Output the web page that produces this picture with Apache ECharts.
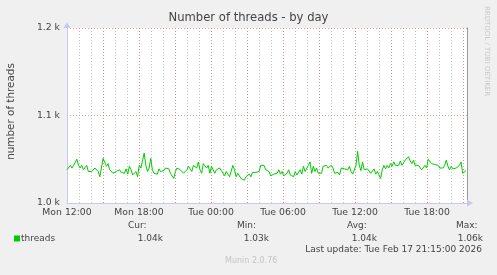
<!DOCTYPE html>
<html><head><meta charset="utf-8">
<script src="https://cdn.jsdelivr.net/npm/echarts@6/dist/echarts.min.js"></script>
<style>html,body{margin:0;padding:0;background:#f0f0f0;}#c{width:497px;height:275px;}</style>
</head><body><div id="c"></div>
<script>
// ---- data ----
const threads = [
 1038,1040,1043,1040,1043,1045,1050,1043,1040,1043,
 1038,1039,1043,1036,1034,1036,1037,1040,1038,1036,
 1030,1029,1051,1050,1042,1045,1038,1039,1034,1036,
 1036,1034,1038,1035,1037,1034,1039,1033,1042,1038,
 1032,1034,1036,1030,1043,1040,1038,1057,1043,1036,
 1040,1051,1038,1034,1036,1033,1039,1036,1034,1037,
 1040,1038,1039,
 1034,1032,1028,1036,1040,1040,1038,1039,1034,
 1036,1038,1042,1040,1036,1043,1045,1040,1047,1038,
 1034,1045,1043,1040,1043,1034,1042,1040,1034,1038,
 1036,1040,1037,1034,1031,1036,1034,1030,1032,1043,
 1038,1030,1034,1032,1028,1030,1026,1030,1028,1033,
 1030,1035,1034,1035,1033,1036,1043,1045,1043,1038,
 1040,
 1036,1031,1032,1033,1031,1034,1038,1033,1036,
 1031,1032,1034,1038,1032,1034,1030,1036,1032,1034,
 1038,1033,1042,1036,1034,1043,1047,1034,1042,1036,
 1040,1034,1036,1034,1042,1040,1043,1040,1039,1043,
 1040,1034,1033,1035,1032,1040,1040,1039,1040,1038,
 1042,1036,1033,1032,1043,1059,1043,1037,1047,1038,
 1040,1039,
 1038,1034,1036,1039,1033,1036,1034,1028,1038,
 1043,1039,1043,1040,1045,1042,1047,1043,1045,1043,
 1048,1043,1045,1049,1051,1053,1048,1045,1049,1043,
 1045,1043,1042,1038,1040,1043,1040,1050,1048,1045,
 1043,1044,1042,1043,1040,1038,1040,1043,1049,1042,
 1038,1042,1039,1038,1040,1040,1043,1047,1034,1036,
 1037
];
const seriesName = 'threads';
const startHour = 12;          // Mon 12:00 (hours since Mon 00:00)
const lastSampleHour = 45.25;  // Tue 21:15
const axisEndHour = 45 + 1/3;
const dayNames = ['Mon', 'Tue'];
const yMin = 1000, yMax = 1200, yStep = 100;
const titleText = 'Number of threads - by day';
const yAxisName = 'number of threads';
const statLabels = ['Cur:', 'Min:', 'Avg:', 'Max:'];
const lastUpdate = 'Last update: Tue Feb 17 21:15:00 2026';
const footer = 'Munin 2.0.76';
const watermark = 'RRDTOOL / TOBI OETIKER';

// ---- build ----
const stepH = (lastSampleHour - startHour) / (threads.length - 1);
const seriesData = threads.map((v, i) => [startHour + i * stepH, v]);
const fmtK = v => (v / 1000).toFixed(2) + 'k';
const cur = threads[threads.length - 1];
const mn = Math.min(...threads), mx = Math.max(...threads);
const avg = threads.reduce((a, b) => a + b, 0) / threads.length;
const statValues = [cur, mn, avg, mx].map(fmtK);

const FONT = 'DejaVu Sans';
const TXT = '#444';
const AXIS = '#c8c8f4';
const RED = 'rgba(230,120,120,0.75)';
const GRAY = 'rgba(190,190,190,0.9)';

const xLabel = v => {
  if (Math.abs(v % 6) > 1e-6) return '';
  const d = Math.floor(v / 24), h = Math.round(v % 24);
  return dayNames[d] + ' ' + String(h).padStart(2, '0') + ':00';
};
const baseX = {type: 'value', min: startHour, max: axisEndHour, gridIndex: 0};

const statLeft = [128, 237, 347, 456];
const statRight = [163, 269, 377, 483];
const graphics = [];
statLabels.forEach((s, i) => {
  graphics.push({type: 'text', left: statLeft[i], top: 221,
    style: {text: s, font: '9px "DejaVu Sans"', fill: TXT}});
  graphics.push({type: 'text', right: 497 - statRight[i], top: 234,
    style: {text: statValues[i], font: '9px "DejaVu Sans"', fill: TXT}});
});
graphics.push({type: 'text', right: 15, top: 245,
  style: {text: lastUpdate, font: '9px "DejaVu Sans"', fill: TXT}});
graphics.push({type: 'text', left: 225, top: 257,
  style: {text: footer, font: '8px "DejaVu Sans"', fill: '#c4c4c4'}});
graphics.push({type: 'text', x: 487, y: 51, rotation: -Math.PI / 2,
  style: {text: watermark, font: '7px "DejaVu Sans"', fill: '#c8c8c8', align: 'center', verticalAlign: 'middle'}});

const chart = echarts.init(document.getElementById('c'), null, {renderer: 'canvas'});
chart.setOption({
  backgroundColor: '#f0f0f0',
  animation: false,
  title: {text: titleText, left: 'center', top: 12, padding: 0,
    textStyle: {fontFamily: FONT, fontSize: 11.6, fontWeight: 'normal', color: TXT}},
  grid: {left: 67, top: 28, width: 400, height: 175, show: true, backgroundColor: '#fff', borderWidth: 0,
    outerBoundsContain: 'axisLabel'},
  legend: {left: 14, top: 234, itemWidth: 6, itemHeight: 6, icon: 'rect', padding: 0,
    data: [seriesName],
    textStyle: {fontFamily: FONT, fontSize: 9, color: TXT, padding: [0, 0, 0, -4]}},
  xAxis: [
    Object.assign({}, baseX, {interval: 1, z: 0,
      axisLine: {show: false}, axisTick: {show: false}, axisLabel: {show: false},
      splitLine: {show: true, lineStyle: {color: GRAY, width: 1, type: [1, 2]}}}),
    Object.assign({}, baseX, {interval: 3, z: 1,
      axisLine: {show: false}, axisTick: {show: false}, axisLabel: {show: false},
      splitLine: {show: true, lineStyle: {color: RED, width: 1, type: [1, 2]}}}),
    Object.assign({}, baseX, {interval: 6, z: 2, position: 'bottom',
      axisLine: {show: true, symbol: ['none', 'triangle'], symbolSize: [7, 6], symbolOffset: [0, 3],
        lineStyle: {color: AXIS, width: 1}},
      axisTick: {show: false},
      axisLabel: {show: true, margin: 5, formatter: xLabel, showMaxLabel: false,
        fontFamily: FONT, fontSize: 9.3, color: TXT},
      splitLine: {show: false}})
  ],
  yAxis: [
    {type: 'value', min: yMin, max: yMax, interval: yStep, z: 1,
      name: yAxisName, nameLocation: 'middle', nameGap: 50.5,
      nameTextStyle: {fontFamily: FONT, fontSize: 10.4, color: TXT, padding: [0, 0, 0, 8]},
      axisLine: {show: true, symbol: ['none', 'triangle'], symbolSize: [7, 6], symbolOffset: [0, 3],
        lineStyle: {color: AXIS, width: 1}},
      axisTick: {show: false},
      axisLabel: {margin: 7, fontFamily: FONT, fontSize: 9.3, color: TXT,
        formatter: v => (v / 1000).toFixed(1) + ' k'},
      splitLine: {show: true, lineStyle: {color: RED, width: 1, type: [1, 2]}}},
    {type: 'value', min: yMin, max: yMax, position: 'right', z: 2,
      axisLine: {show: true, lineStyle: {color: '#999', width: 1}},
      axisTick: {show: false}, axisLabel: {show: false}, splitLine: {show: false}}
  ],
  series: [{
    name: seriesName, type: 'line', xAxisIndex: 0, yAxisIndex: 0, z: 5,
    data: seriesData, showSymbol: false, symbol: 'none',
    lineStyle: {color: '#00cc00', width: 1}, itemStyle: {color: '#00cc00'}
  }],
  graphic: graphics
});
</script></body></html>
